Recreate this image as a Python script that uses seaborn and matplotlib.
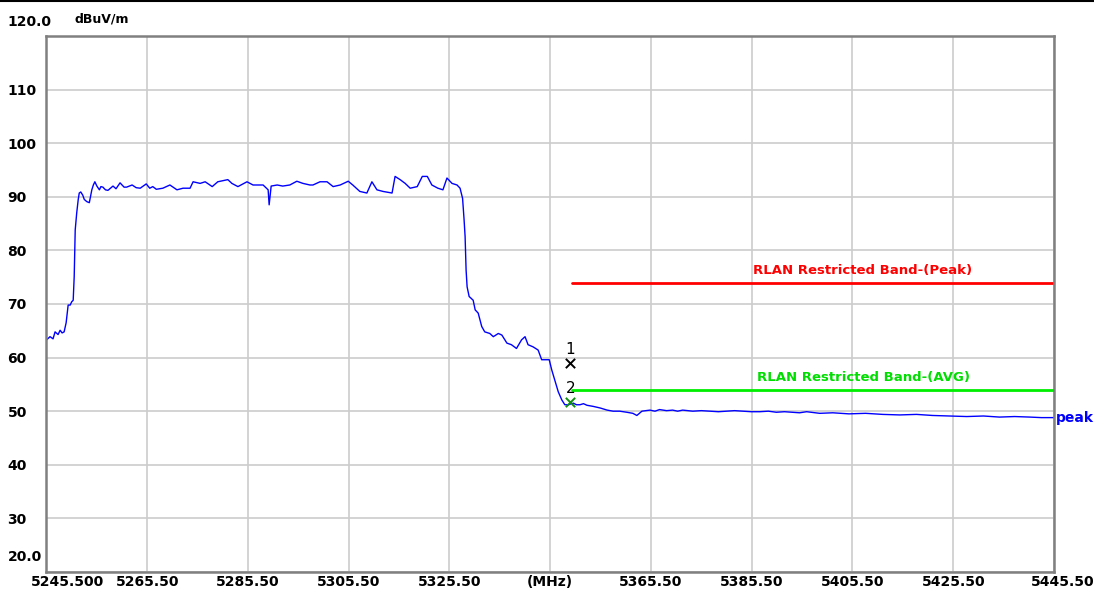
import pandas as pd
import matplotlib.pyplot as plt
import seaborn as sns
from matplotlib.lines import Line2D
from matplotlib.transforms import ScaledTranslation

# spectrum trace (MHz, dBuV/m)
freq_mhz = [
    5245.5, 5246.2, 5246.8, 5247.2, 5247.8, 5248.2, 5248.6, 5249.0, 5249.4, 5249.8,
    5250.2, 5250.5, 5250.8, 5251.0, 5251.2, 5251.5, 5251.8, 5252.0, 5252.3, 5252.7,
    5253.0, 5253.5, 5254.0, 5254.5, 5254.8, 5255.1, 5255.5, 5256.0, 5256.3, 5256.7,
    5257.2, 5257.7, 5258.7, 5259.3, 5260.1, 5260.9, 5261.4, 5262.5, 5263.3, 5264.1,
    5265.3, 5266.0, 5266.6, 5267.3, 5268.6, 5270.0, 5271.4, 5272.6, 5274.0, 5274.6,
    5276.0, 5277.0, 5278.4, 5279.5, 5281.5, 5282.3, 5283.5, 5285.3, 5286.5, 5288.5,
    5289.5, 5289.7, 5290.1, 5291.3, 5292.4, 5293.8, 5295.2, 5296.4, 5297.8, 5298.4,
    5299.8, 5301.2, 5302.4, 5303.8, 5305.4, 5306.3, 5307.7, 5309.1, 5310.1, 5311.1,
    5312.3, 5314.1, 5314.7, 5315.7, 5316.7, 5317.7, 5319.1, 5320.1, 5321.1, 5322.0,
    5323.2, 5324.2, 5325.0, 5326.0, 5327.0, 5327.6, 5328.1, 5328.4, 5328.6, 5328.8,
    5329.0, 5329.4, 5330.2, 5330.6, 5331.2, 5331.9, 5332.5, 5333.5, 5334.2, 5335.2,
    5335.9, 5336.9, 5337.8, 5338.8, 5339.8, 5340.5, 5341.1, 5342.1, 5343.1, 5343.8,
    5344.7, 5345.3, 5345.8, 5346.4, 5347.1, 5347.8, 5348.4, 5349.1, 5350.1, 5350.7,
    5351.4, 5352.1, 5352.8, 5354.0, 5355.4, 5356.8, 5358.0, 5359.3, 5360.7, 5361.9,
    5362.7, 5363.7, 5365.3, 5366.3, 5367.2, 5368.6, 5369.8, 5370.8, 5371.8, 5373.8,
    5375.5, 5377.2, 5378.9, 5380.5, 5382.1, 5383.7, 5385.4, 5387.1, 5388.8, 5390.4,
    5392.0, 5393.6, 5395.0, 5396.4, 5399.0, 5401.6, 5404.8, 5408.1, 5411.5, 5414.9,
    5418.2, 5421.4, 5424.8, 5428.2, 5431.5, 5434.7, 5437.7, 5440.7, 5443.0, 5445.5,
]
level_dbuv = [
    63.3, 63.9, 63.5, 64.8, 64.3, 65.1, 64.6, 64.8, 66.5, 69.8,
    69.8, 70.4, 70.7, 75.1, 83.8, 87.0, 89.5, 90.7, 90.9, 90.3,
    89.5, 89.1, 88.9, 91.3, 92.2, 92.8, 92.0, 91.3, 91.9, 91.8,
    91.3, 91.2, 92.0, 91.5, 92.6, 91.8, 91.8, 92.2, 91.7, 91.6,
    92.4, 91.6, 91.9, 91.4, 91.6, 92.2, 91.3, 91.6, 91.6, 92.8,
    92.5, 92.8, 91.9, 92.8, 93.2, 92.5, 91.9, 92.8, 92.2, 92.2,
    91.3, 88.5, 92.0, 92.2, 92.0, 92.2, 92.9, 92.5, 92.2, 92.2,
    92.8, 92.8, 91.9, 92.2, 92.9, 92.2, 91.0, 90.7, 92.8, 91.3,
    91.0, 90.7, 93.8, 93.2, 92.5, 91.6, 91.9, 93.8, 93.8, 92.2,
    91.6, 91.3, 93.5, 92.5, 92.2, 91.6, 89.7, 85.7, 82.6, 76.3,
    73.2, 71.4, 70.7, 68.9, 68.3, 65.8, 64.8, 64.5, 63.9, 64.5,
    64.2, 62.7, 62.4, 61.7, 63.3, 63.9, 62.4, 62.0, 61.4, 59.6,
    59.6, 59.6, 57.7, 55.8, 53.6, 52.1, 51.2, 51.2, 51.5, 51.2,
    51.2, 51.4, 51.1, 50.9, 50.6, 50.2, 50.0, 50.0, 49.8, 49.6,
    49.2, 50.0, 50.2, 50.0, 50.3, 50.1, 50.2, 50.0, 50.2, 50.0,
    50.1, 50.0, 49.9, 50.0, 50.1, 50.0, 49.9, 49.9, 50.0, 49.8,
    49.9, 49.8, 49.7, 49.9, 49.6, 49.7, 49.5, 49.6, 49.4, 49.3,
    49.4, 49.2, 49.1, 49.0, 49.1, 48.9, 49.0, 48.9, 48.8, 48.8,
]

# limit lines
limit_start_mhz = 5349.8
limit_end_mhz = 5445.5
peak_limit = 74.0
avg_limit = 54.0
peak_label = "RLAN Restricted Band-(Peak)"
avg_label = "RLAN Restricted Band-(AVG)"

# markers
marker_ids = ["1", "2"]
marker_freq = [5349.5, 5349.5]
marker_level = [59.0, 51.7]

# axes
x_ticks = [5245.5, 5265.5, 5285.5, 5305.5, 5325.5, 5345.5, 5365.5, 5385.5, 5405.5, 5425.5, 5445.5]
x_labels = ["5245.500", "5265.50", "5285.50", "5305.50", "5325.50", "(MHz)",
            "5365.50", "5385.50", "5405.50", "5425.50", "5445.50"]
y_ticks = [20, 30, 40, 50, 60, 70, 80, 90, 100, 110, 120]
y_labels = ["20.0", "30", "40", "50", "60", "70", "80", "90", "100", "110", "120.0"]

sns.set_style("white")
plt.rcParams['font.family'] = ['DejaVu Sans']

fig = plt.figure(figsize=(10.94, 5.89), dpi=100)
ax = fig.add_axes([0.0425, 0.0289, 0.9209, 0.9100])

trace = pd.DataFrame({"freq": freq_mhz, "level": level_dbuv})
sns.lineplot(data=trace, x="freq", y="level", ax=ax, color="#0000ff", linewidth=1.0)

limits = pd.DataFrame({
    "freq": [limit_start_mhz, limit_end_mhz] * 2,
    "level": [peak_limit, peak_limit, avg_limit, avg_limit],
    "kind": ["peak", "peak", "avg", "avg"],
})
sns.lineplot(data=limits, x="freq", y="level", hue="kind",
             palette={"peak": "#ff0000", "avg": "#00ee00"}, linewidth=2.0,
             ax=ax, legend=False)

ax.text(5407.6, peak_limit + 1.0, peak_label, color="#ff0000", fontsize=9.5,
        fontweight="bold", ha="center", va="bottom")
ax.text(5407.6, avg_limit + 1.0, avg_label, color="#00dd00", fontsize=9.5,
        fontweight="bold", ha="center", va="bottom")

ax.scatter(marker_freq[0], marker_level[0], marker="x", s=45, color="black", linewidths=1.4, zorder=5)
ax.scatter(marker_freq[1], marker_level[1], marker="x", s=45, color="#109010", linewidths=1.4, zorder=5)
for mid, mf, ml in zip(marker_ids, marker_freq, marker_level):
    ax.text(mf, ml + 1.1, mid, color="black", fontsize=11, ha="center", va="bottom")

ax.text(1.002, 48.8, "peak", transform=ax.get_yaxis_transform(), color="#0000ff",
        fontsize=10, fontweight="bold", ha="left", va="center")

ax.set_xlim(5245.5, 5445.5)
ax.set_ylim(20, 120)
ax.set_xticks(x_ticks, x_labels)
ax.set_yticks(y_ticks, y_labels)
ax.set_xlabel("")
ax.set_ylabel("")
ax.grid(True, color="#cccccc", linewidth=1.2)
ax.set_axisbelow(True)
ax.tick_params(length=0, labelsize=10, labelcolor="black")
ax.tick_params(axis="x", pad=2)
ax.tick_params(axis="y", pad=28)
for lab in ax.get_yticklabels():
    lab.set_fontweight("bold")
    lab.set_horizontalalignment("left")
for lab in ax.get_xticklabels():
    lab.set_fontweight("bold")

# shift the end labels the way the analyser does
ylabs = ax.get_yticklabels()
ylabs[0].set_transform(ylabs[0].get_transform() + ScaledTranslation(0, 12 / 72, fig.dpi_scale_trans))
ylabs[-1].set_transform(ylabs[-1].get_transform() + ScaledTranslation(0, 11.5 / 72, fig.dpi_scale_trans))
xlabs = ax.get_xticklabels()
xlabs[0].set_transform(xlabs[0].get_transform() + ScaledTranslation(15 / 72, 0, fig.dpi_scale_trans))
xlabs[-1].set_transform(xlabs[-1].get_transform() + ScaledTranslation(6 / 72, 0, fig.dpi_scale_trans))

ax.text(0.028, 1.02, "dBuV/m", transform=ax.transAxes, fontsize=9, fontweight="bold",
        color="black", ha="left", va="bottom")

for side in ["left", "right", "top", "bottom"]:
    ax.spines[side].set_color("#808080")
    ax.spines[side].set_linewidth(1.8)
    ax.spines[side].set_visible(True)

fig.add_artist(Line2D([0, 1], [0.998, 0.998], transform=fig.transFigure, color="black", linewidth=1.5))

fig.savefig("out.png", dpi=100)
